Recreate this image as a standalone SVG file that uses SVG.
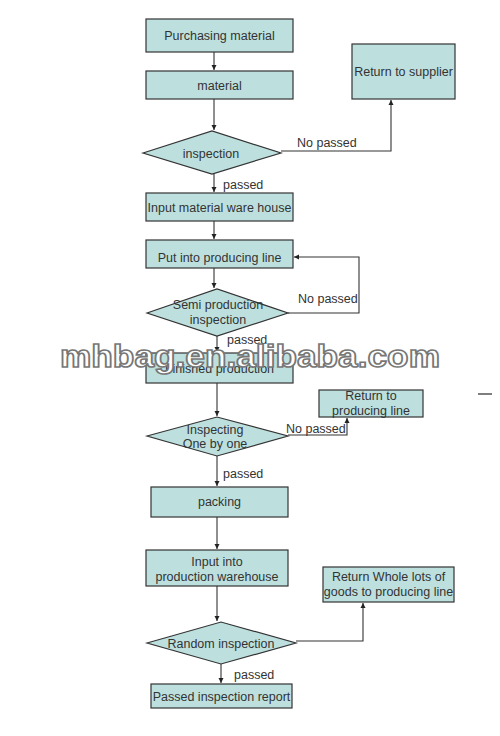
<svg xmlns="http://www.w3.org/2000/svg" width="500" height="736" viewBox="0 0 500 736">
<defs>
<marker id="ah" markerWidth="6" markerHeight="6" refX="5" refY="3" orient="auto" markerUnits="userSpaceOnUse">
<path d="M0,0.5 L5,3 L0,5.5 Z" fill="#222"/>
</marker>
<style>
.box{fill:#bde0df;stroke:#333;stroke-width:1.2}
.t{font-family:"Liberation Sans",Arial,sans-serif;font-size:12.5px;fill:#333;text-anchor:middle}
.l{font-family:"Liberation Sans",Arial,sans-serif;font-size:12.5px;fill:#333}
.c{fill:none;stroke:#333;stroke-width:1.1}
.wm{font-family:"Liberation Sans",Arial,sans-serif;font-weight:bold;font-size:31px;fill:#fff;stroke:#777;stroke-width:1.6}
</style>
</defs>
<rect width="500" height="736" fill="#fff"/>
<g id="connectors">
<path class="c" d="M214,52 V70" marker-end="url(#ah)"/>
<path class="c" d="M214,99 V130" marker-end="url(#ah)"/>
<path class="c" d="M281,151 H391 V100" marker-end="url(#ah)"/>
<path class="c" d="M214,174 V192" marker-end="url(#ah)"/>
<path class="c" d="M214,221 V239" marker-end="url(#ah)"/>
<path class="c" d="M214,268 V288" marker-end="url(#ah)"/>
<path class="c" d="M288,313 H359 V257 H294" marker-end="url(#ah)"/>
<path class="c" d="M217,336 V352" marker-end="url(#ah)"/>
<path class="c" d="M217,383 V416" marker-end="url(#ah)"/>
<path class="c" d="M288,435 H347 V418" marker-end="url(#ah)"/>
<path class="c" d="M217,456 V486" marker-end="url(#ah)"/>
<path class="c" d="M217,517 V549" marker-end="url(#ah)"/>
<path class="c" d="M217,586 V621" marker-end="url(#ah)"/>
<path class="c" d="M296,641 H363 V603" marker-end="url(#ah)"/>
<path class="c" d="M221,664 V683" marker-end="url(#ah)"/>
<path d="M478,394 H492" stroke="#555" stroke-width="1.5"/>
<text class="l" x="297" y="147">No passed</text>
<text class="l" x="223" y="189">passed</text>
<text class="l" x="298" y="303">No passed</text>
<text class="l" x="227" y="344">passed</text>
<text class="l" x="286" y="433">No passed</text>
<text class="l" x="223" y="478">passed</text>
<text class="l" x="234" y="679">passed</text>
</g>
<g id="purchasing"><rect class="box" x="146" y="19" width="147" height="33"/><text class="t" x="219.5" y="40">Purchasing material</text></g>
<g id="material"><rect class="box" x="146" y="71" width="147" height="28"/><text class="t" x="219.5" y="89.5">material</text></g>
<g id="inspection"><polygon class="box" points="143,153 212,131 281,153 212,174"/><text class="t" x="211" y="157.5">inspection</text></g>
<g id="return-supplier"><rect class="box" x="352" y="44" width="103" height="55"/><text class="t" x="403.5" y="76">Return to supplier</text></g>
<g id="input-warehouse"><rect class="box" x="146" y="193" width="147" height="28"/><text class="t" x="219.5" y="211.5">Input material ware house</text></g>
<g id="producing-line"><rect class="box" x="146" y="240" width="147" height="28"/><text class="t" x="219.5" y="262">Put into producing line</text></g>
<g id="semi-inspection"><polygon class="box" points="147,313 217,289 288,313 217,336"/><text class="t" x="218" y="308.5">Semi production</text><text class="t" x="218" y="323.5">inspection</text></g>
<g id="finished"><rect class="box" x="146" y="353" width="147" height="30"/><text class="t" x="219.5" y="372.5">Finished production</text></g>
<g id="inspecting"><polygon class="box" points="147,436 217,417 288,436 217,456"/><text class="t" x="215" y="433.5">Inspecting</text><text class="t" x="215" y="448">One by one</text></g>
<g id="return-producing"><rect class="box" x="319" y="390" width="104" height="27"/><text class="t" x="371" y="400">Return to</text><text class="t" x="371" y="414.5">producing line</text></g>
<g id="packing"><rect class="box" x="151" y="487" width="137" height="30"/><text class="t" x="219.5" y="506">packing</text></g>
<g id="input-production"><rect class="box" x="146" y="550" width="142" height="36"/><text class="t" x="217" y="565.5">Input into</text><text class="t" x="217" y="580.5">production warehouse</text></g>
<g id="random"><polygon class="box" points="147,643 221,622 296,643 221,664"/><text class="t" x="221" y="647.5">Random inspection</text></g>
<g id="return-whole"><rect class="box" x="323" y="567" width="131" height="35"/><text class="t" x="388.5" y="580.5">Return Whole lots of</text><text class="t" x="388.5" y="595.5">goods to producing line</text></g>
<g id="report"><rect class="box" x="151" y="684" width="141" height="24"/><text class="t" x="221.5" y="701">Passed inspection report</text></g>
<text class="wm" x="60" y="367" textLength="380" lengthAdjust="spacingAndGlyphs">mhbag.en.alibaba.com</text>
</svg>
